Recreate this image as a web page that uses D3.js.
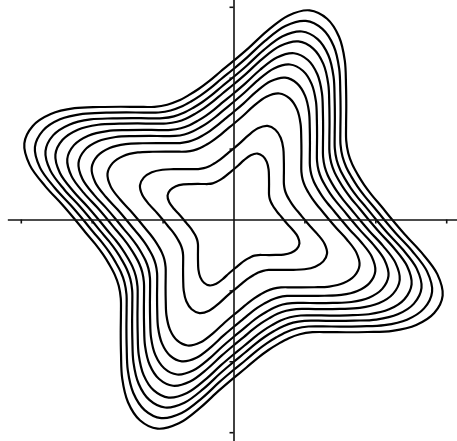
<!DOCTYPE html>
<html>
<head>
<meta charset="utf-8">
<script src="https://cdn.jsdelivr.net/npm/d3@7"></script>
<style>
  html, body { margin: 0; padding: 0; background: #fff; }
  svg { display: block; }
</style>
</head>
<body>
<div id="chart"></div>
<script>
// one period (0..85 deg) of the star shape, radius relative to where it crosses an axis
const shapeAngles = [0, 5, 10, 15, 20, 25, 30, 35, 40, 45, 50, 55, 60, 65, 70, 75, 80, 85];
const shapeRadius = [1.000, 0.937, 0.886, 0.852, 0.833, 0.826, 0.836, 0.868, 0.927,
                     1.006, 1.104, 1.224, 1.331, 1.397, 1.404, 1.331, 1.205, 1.085];
// where each level curve crosses the axes (inner to outer), in axis units
const contourAxisRadius = [0.705, 1.0, 1.347, 1.516, 1.657, 1.777, 1.904, 2.01, 2.123, 2.236];
const xTicks = [-3, -2, -1, 1, 2, 3];
const yTicks = [-3, -2, -1, 1, 2, 3];

const width = 457, height = 441;
const unit = 70.9;          // pixels per axis unit
const cx = 233.5, cy = 219.5;

const x = d3.scaleLinear().domain([-3.19, 3.19]).range([cx - 3.19 * unit, cx + 3.19 * unit]);
const y = d3.scaleLinear().domain([-3.19, 3.19]).range([cy + 3.19 * unit, cy - 3.19 * unit]);

const svg = d3.select("#chart").append("svg")
    .attr("width", width)
    .attr("height", height);

// level curves, the shape repeats every quarter turn
const contours = contourAxisRadius.map(R => {
    const pts = [];
    for (let q = 0; q < 4; q++) {
        shapeAngles.forEach((a, i) => {
            const t = (a + 90 * q) * Math.PI / 180;
            const r = R * shapeRadius[i];
            pts.push([r * Math.cos(t), r * Math.sin(t)]);
        });
    }
    return pts;
});

const line = d3.line()
    .x(d => x(d[0]))
    .y(d => y(d[1]))
    .curve(d3.curveCatmullRomClosed.alpha(0.5));

svg.append("g")
    .selectAll("path")
    .data(contours)
    .enter().append("path")
    .attr("d", line)
    .attr("fill", "none")
    .attr("stroke", "#000")
    .attr("stroke-width", 2.2);

// axes through the origin, no labels
const xAxis = svg.append("g")
    .attr("transform", `translate(0,${y(0)})`)
    .call(d3.axisBottom(x).tickValues(xTicks).tickSize(4).tickSizeOuter(0).tickFormat(""));

const yAxis = svg.append("g")
    .attr("transform", `translate(${x(0)},0)`)
    .call(d3.axisLeft(y).tickValues(yTicks).tickSize(4).tickSizeOuter(0).tickFormat(""));

[xAxis, yAxis].forEach(g => {
    g.selectAll("path, line").attr("stroke", "#111").attr("stroke-width", 1.6);
});
</script>
</body>
</html>
